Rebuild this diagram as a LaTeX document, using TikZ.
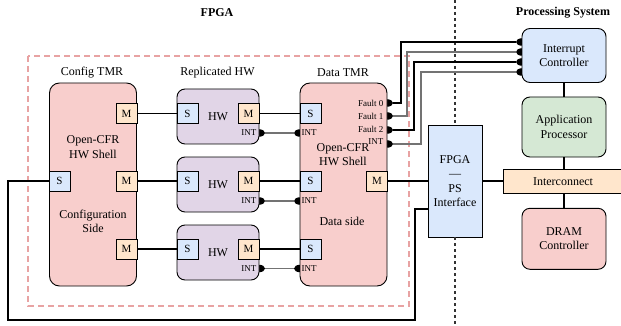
\documentclass[tikz,border=0pt]{standalone}
\usepackage{fontspec}
\setmainfont{Liberation Serif}
\usetikzlibrary{positioning,backgrounds,shapes.geometric}
\definecolor{shellred}{HTML}{F8CECC}
\definecolor{hwpurple}{HTML}{E1D5E7}
\definecolor{sblue}{HTML}{DAE8FC}
\definecolor{morange}{HTML}{FFE6CC}
\definecolor{apgreen}{HTML}{D5E8D4}
\definecolor{zonered}{HTML}{E8A3A3}
\begin{document}
\begin{tikzpicture}[
  x=1pt, y=-1pt,
  font=\fontsize{12}{14.5}\selectfont,
  txt/.style={align=center, inner sep=0pt},
  box/.style={draw, line width=0.9pt, inner sep=0pt, align=center},
  shell/.style={box, fill=shellred, rounded corners=10pt, minimum width=87pt, minimum height=203pt},
  hwbox/.style={box, fill=hwpurple, rounded corners=8pt, minimum width=82pt, minimum height=55pt},
  port/.style={box, minimum width=21pt, minimum height=20pt, font=\fontsize{11}{13}\selectfont},
  sp/.style={port, fill=sblue},
  mp/.style={port, fill=morange},
  psbox/.style={box, rounded corners=8pt, minimum width=84pt},
  tiny/.style={font=\fontsize{9}{10}\selectfont, inner sep=0.5pt},
  bump/.style={ellipse, fill=black, minimum width=12pt, minimum height=7.5pt, inner sep=0pt},
  bus/.style={line width=1.5pt},
  irq/.style={line width=1.2pt, draw=black!55},
  title/.style={font=\bfseries\fontsize{12}{14}\selectfont}
]
\useasboundingbox (0,0) rectangle (621,326);
\draw[zonered, line width=1.2pt, dash pattern=on 6pt off 4pt] (28,56) rectangle (409,306);

\node[title] (fpga) at (217,13) {FPGA};
\node[title] (psys) at (563,13) {Processing System};
\node[txt] (cfgl) at (92,73) {Config TMR};
\node[txt] (repl) at (217.5,73) {Replicated HW};
\node[txt] (datl) at (343,73) {Data TMR};

\node[shell] (cfg) at (93,184.5) {};
\node[shell] (dat) at (343.5,184.5) {};
\node[hwbox] (hw1) at (218,116.5) {};
\node[hwbox] (hw2) at (218,184.5) {};
\node[hwbox] (hw3) at (218,252.5) {};

\node[txt] (cfgt) at (93,147) {Open-CFR\\HW Shell};
\node[txt] (cfgs) at (93,221.5) {Configuration\\Side};
\node[txt] (datt) at (343,154.5) {Open-CFR\\HW Shell};
\node[txt] (dats) at (342,221) {Data side};
\node[txt] (hwt1) at (hw1) {HW};
\node[txt] (hwt2) at (hw2) {HW};
\node[txt] (hwt3) at (hw3) {HW};

\node[sp] (cs) at (59.5,181) {S};
\node[mp] (cm1) at (126.5,113.5) {M};
\node[mp] (cm2) at (126.5,181) {M};
\node[mp] (cm3) at (126.5,249) {M};
\node[sp] (hs1) at (187.5,113.5) {S};
\node[sp] (hs2) at (187.5,181) {S};
\node[sp] (hs3) at (187.5,249) {S};
\node[mp] (hm1) at (248.5,113.5) {M};
\node[mp] (hm2) at (248.5,181) {M};
\node[mp] (hm3) at (248.5,249) {M};
\node[sp] (ds1) at (310.5,113.5) {S};
\node[sp] (ds2) at (310.5,181) {S};
\node[sp] (ds3) at (310.5,249) {S};
\node[mp] (dm) at (377,181) {M};

\node[tiny, anchor=east] (hi1) at (257,133) {INT};
\node[tiny, anchor=east] (hi2) at (257,201) {INT};
\node[tiny, anchor=east] (hi3) at (257,268.5) {INT};
\node[tiny, anchor=west] (di1) at (301,133) {INT};
\node[tiny, anchor=west] (di2) at (301,201) {INT};
\node[tiny, anchor=west] (di3) at (301,268.5) {INT};
\node[tiny, anchor=east] (fl0) at (384,103) {Fault 0};
\node[tiny, anchor=east] (fl1) at (384,116) {Fault 1};
\node[tiny, anchor=east] (fl2) at (384,129.5) {Fault 2};
\node[tiny, anchor=east] (fl3) at (384,141.5) {INT};

\node[box, fill=sblue, minimum width=54pt, minimum height=112pt] (ifc) at (455,181) {FPGA\\---\\PS\\Interface};
\node[psbox, fill=sblue, minimum height=54pt] (irqc) at (564,55.5) {Interrupt\\Controller};
\node[psbox, fill=apgreen, minimum height=60pt] (app) at (564,127) {Application\\Processor};
\node[box, fill=morange, minimum width=120pt, minimum height=24pt, text width=118pt] (icn) at (563,181.3) {Interconnect};
\node[psbox, fill=shellred, minimum height=61pt] (dram) at (564,238.8) {DRAM\\Controller};

\begin{scope}[on background layer]
\node[bump] (hb1) at (259,133) {};
\node[bump] (hb2) at (259,201) {};
\node[bump] (hb3) at (259,268.5) {};
\node[bump] (db1) at (300,133) {};
\node[bump] (db2) at (300,201) {};
\node[bump] (db3) at (300,268.5) {};
\node[bump] (fb0) at (387,103) {};
\node[bump] (fb1) at (387,116) {};
\node[bump] (fb2) at (387,130) {};
\node[bump] (fb3) at (387,144) {};
\node[bump] (ib0) at (522,42) {};
\node[bump] (ib1) at (522,52) {};
\node[bump] (ib2) at (522,62) {};
\node[bump] (ib3) at (522,72) {};
\end{scope}

\coordinate (septop) at (455,0);
\coordinate (sepbot) at (455,326);
\coordinate (ifcin) at ([yshift=-28pt]ifc.west);
\draw[black!80, line width=1.2pt, dash pattern=on 3pt off 3pt] (septop) -- (ifc.north);
\draw[black!80, line width=1.2pt, dash pattern=on 3pt off 3pt] (ifc.south) -- (sepbot);

\draw[bus] (cm1) -- (hs1);
\draw[bus] (cm2) -- (hs2);
\draw[bus] (cm3) -- (hs3);
\draw[bus] (hm1) -- (ds1);
\draw[bus] (hm2) -- (ds2);
\draw[bus] (hm3) -- (ds3);
\draw[irq] (hb1) -- (db1);
\draw[irq] (hb2) -- (db2);
\draw[irq] (hb3) -- (db3);

\draw[bus] (fb0) -- ++(14,0) |- (ib0);
\draw[irq] (fb1) -- ++(20,0) |- (ib1);
\draw[bus] (fb2) -- ++(27,0) |- (ib2);
\draw[irq] (fb3) -- ++(34,0) |- (ib3);

\draw[bus] (dm.east) -- (dm.east -| ifc.west);
\draw[bus] (ifc.east) -- (ifc.east -| icn.west);
\draw[bus] (irqc) -- (app);
\draw[bus] (app.south) -- (app.south |- icn.north);
\draw[bus] (icn.south -| dram) -- (dram.north);
\draw[line width=1.7pt] (cs.west) -| (8,320) -| (415,209) -- (ifcin);
\end{tikzpicture}
\end{document}
